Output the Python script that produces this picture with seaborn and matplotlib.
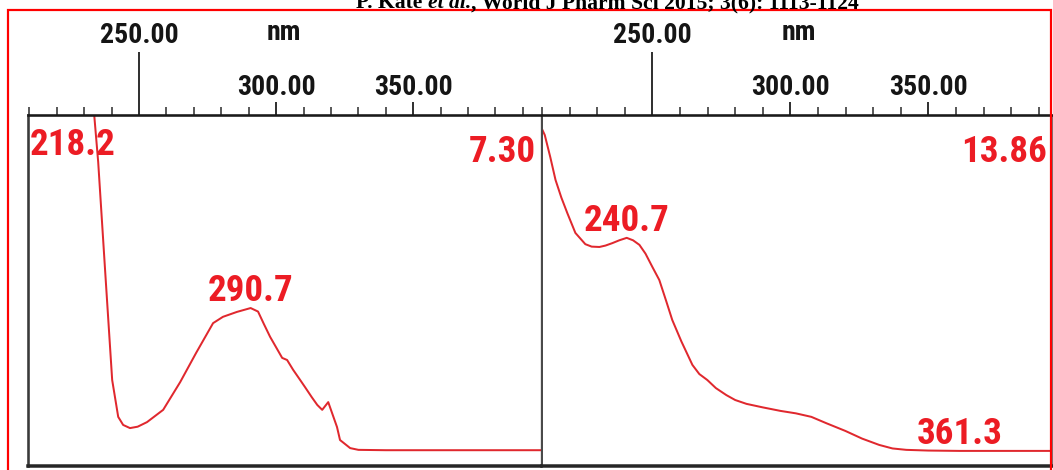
import matplotlib
matplotlib.use("Agg")
import matplotlib.pyplot as plt
from matplotlib import font_manager as fm
from matplotlib.patches import Rectangle
from matplotlib.textpath import TextPath
from matplotlib.ticker import MultipleLocator
import pandas as pd
import seaborn as sns

# UV spectrum A: wavelength (nm) and relative absorbance (fraction of full scale)
wl_a = [210, 214, 218.2, 222, 226, 230, 233, 235.1, 237.6, 240.2, 242.4, 244.2,
        246.7, 249.5, 252.9, 258.8, 265, 270.8, 277, 280.6, 285.7, 290.7, 293.4,
        295.5, 297.8, 300, 302.2, 304, 306.2, 308.5, 310.6, 313, 315, 316.8, 319,
        322.2, 323.3, 327, 330, 340, 360, 380, 396.6]
abs_a = [1.25, 1.38, 1.42, 1.38, 1.3, 1.18, 1.06, 0.866, 0.56, 0.245, 0.14, 0.117,
         0.108, 0.112, 0.125, 0.16, 0.239, 0.322, 0.407, 0.425, 0.439, 0.45, 0.44,
         0.405, 0.368, 0.338, 0.308, 0.302, 0.274, 0.248, 0.224, 0.196, 0.174, 0.16, 0.182,
         0.111, 0.074, 0.051, 0.046, 0.045, 0.045, 0.045, 0.045]

# UV spectrum B
wl_b = [210, 211, 213, 214.9, 217, 219.2, 222.1, 225.7, 228, 230.8, 233, 235.5,
        238, 240.7, 243, 245.3, 247.5, 250, 252.5, 255, 257.2, 260.5, 264.5, 267,
        269.9, 273, 276.8, 280, 284.1, 290, 296.4, 302, 307.6, 313, 319.9, 326,
        332.2, 337, 342, 350, 361.3, 380, 394.8]
abs_b = [0.96, 0.943, 0.88, 0.815, 0.765, 0.72, 0.664, 0.632, 0.625, 0.624, 0.628, 0.635,
         0.643, 0.65, 0.643, 0.63, 0.605, 0.567, 0.53, 0.47, 0.416, 0.355, 0.288, 0.262,
         0.245, 0.222, 0.202, 0.188, 0.177, 0.167, 0.157, 0.15, 0.14, 0.122, 0.1, 0.078,
         0.06, 0.05, 0.046, 0.044, 0.043, 0.043, 0.043]

peaks_a = [218.2, 290.7]
peaks_b = [240.7, 361.3]
full_scale = [7.30, 13.86]
tick_values = [250, 300, 350]
tick_labels = ["250.00", "300.00", "350.00"]
axis_unit = "nm"
citation = ["P. Kate ", "et al.", ", World J Pharm Sci 2015; 3(6): 1113-1124"]

W, H, DPI = 1053, 470, 100
PT = 72 / DPI  # points per pixel

sns.set_theme(style="white")

# pick a narrow sans face for the instrument lettering when one is installed
available = {f.name for f in fm.fontManager.ttflist}
preferred = ["Liberation Sans Narrow", "Arial Narrow", "Roboto Condensed",
             "Noto Sans Condensed", "Open Sans Condensed", "DejaVu Sans Condensed"]
label_family = next((n for n in preferred if n in available), None)
if label_family is None:
    cond = sorted(n for n in available
                  if "Condensed" in n and not any(k in n for k in ("Extra", "Semi", "Ultra", "Mono")))
    label_family = cond[0] if cond else "Liberation Sans"
plt.rcParams["font.family"] = [label_family, "Liberation Sans", "DejaVu Sans"]


def fit_size(sample, width_px, height_px, weight="bold"):
    """Font size (pt) balancing a target ink width and digit height."""
    fp = fm.FontProperties(family=[label_family, "Liberation Sans"], weight=weight)
    ext = TextPath((0, 0), sample, size=100, prop=fp).get_extents()
    s_w = 100 * width_px / ext.width
    s_h = 100 * height_px / ext.height
    return (s_w * s_h) ** 0.5 * PT


RED_SIZE = fit_size("13.86", 71, 31)
BLACK_SIZE = fit_size("250.00", 74, 21)

RED_TXT = "#ec1c24"
RED_LINE = "#e0282e"

fig = plt.figure(figsize=(W / DPI, H / DPI), dpi=DPI)
fig.patch.set_facecolor("white")


def fx(px):
    return px / W


def fy(py):
    return 1 - py / H


top_px, bot_px = 115, 466
ax_h = (bot_px - top_px) / H
axL = fig.add_axes([fx(28), fy(bot_px), fx(541 - 28), ax_h])
axR = fig.add_axes([fx(542), fy(bot_px), fx(1052 - 542), ax_h])

panels = [
    (axL, wl_a, abs_a, peaks_a, full_scale[0], (209.5, 396.6)),
    (axR, wl_b, abs_b, peaks_b, full_scale[1], (210.0, 394.8)),
]

for ax, wl, ab, peaks, fs, xlim in panels:
    df = pd.DataFrame({"wavelength": wl, "absorbance": ab})
    sns.lineplot(data=df, x="wavelength", y="absorbance", ax=ax,
                 color=RED_LINE, linewidth=2.0 * PT, sort=False)
    ax.set_xlim(*xlim)
    ax.set_ylim(0, 1)
    ax.set_xlabel("")
    ax.set_ylabel("")
    ax.set_facecolor("white")
    ax.yaxis.set_visible(False)

    # wavelength scale along the top edge
    ax.xaxis.set_ticks_position("top")
    ax.set_xticks(tick_values)
    ax.set_xticklabels(tick_labels)
    ax.xaxis.set_minor_locator(MultipleLocator(10))
    ax.tick_params(axis="x", which="major", direction="out", length=13 * PT,
                   width=2.0 * PT, color="#333333", pad=1 * PT,
                   labelsize=BLACK_SIZE, labelcolor="#151515")
    ax.tick_params(axis="x", which="minor", direction="out", length=8 * PT,
                   width=1.6 * PT, color="#333333")
    for lab in ax.get_xticklabels():
        lab.set_fontweight("bold")
    # the first labelled wavelength sits on a raised row with a long tick
    first = ax.xaxis.get_major_ticks()[0]
    first.set_pad(53 * PT)
    first.tick2line.set_markersize(63 * PT)
    first.tick2line.set_color("#3a3a3a")

    ax.text(303, 1 + (top_px - 40) / (bot_px - top_px), axis_unit,
            transform=ax.get_xaxis_transform(), ha="center", va="baseline",
            fontsize=BLACK_SIZE, fontweight="bold", color="#151515")

    # peak annotations
    for p in peaks:
        yv = ab[wl.index(p)]
        if yv > 1:
            ax.text(0.004, 0.886, f"{p:.1f}", transform=ax.transAxes,
                    ha="left", va="baseline", fontsize=RED_SIZE,
                    fontweight="bold", color=RED_TXT)
        else:
            ax.annotate(f"{p:.1f}", xy=(p, yv), xytext=(0, 7 * PT),
                        textcoords="offset points", ha="center", va="baseline",
                        fontsize=RED_SIZE, fontweight="bold", color=RED_TXT)
    ax.text(0.99, 0.866, f"{fs:.2f}", transform=ax.transAxes, ha="right",
            va="baseline", fontsize=RED_SIZE, fontweight="bold", color=RED_TXT)

# frame styling
for sp in axL.spines.values():
    sp.set_visible(True)
axL.spines["left"].set(color="#3a3a3a", linewidth=2.6 * PT)
axL.spines["bottom"].set(color="#262626", linewidth=3.5 * PT)
axL.spines["top"].set(color="#1a1a1a", linewidth=2.6 * PT)
axL.spines["right"].set(color="#4a4a4a", linewidth=1.3 * PT)
for sp in axR.spines.values():
    sp.set_visible(True)
axR.spines["left"].set(color="#4a4a4a", linewidth=1.0 * PT)
axR.spines["bottom"].set(color="#262626", linewidth=3.5 * PT)
axR.spines["top"].set(color="#1a1a1a", linewidth=2.6 * PT)
axR.spines["right"].set(color="#777777", linewidth=1.3 * PT)

# red page frame
fig.add_artist(Rectangle((fx(7.5), -0.1), fx(1051 - 7.5), fy(10) + 0.1,
                         transform=fig.transFigure, fill=False,
                         edgecolor="#ff0000", linewidth=2.2 * PT, clip_on=False))

# running header (partially above the page edge), scaled to its span
renderer = fig.canvas.get_renderer()
styles = ["normal", "italic", "normal"]
serif = ["Liberation Serif", "DejaVu Serif"]


def place_header(size, x0):
    x = x0
    items = []
    for txt, style in zip(citation, styles):
        t = fig.text(fx(x), fy(8), txt, family=serif, fontweight="bold",
                     style=style, fontsize=size, ha="left", va="baseline",
                     color="black")
        items.append(t)
        x += t.get_window_extent(renderer).width
    return items, x - x0


trial, span = place_header(13.0, 356)
for t in trial:
    t.remove()
place_header(13.0 * 502 / span, 356)

fig.savefig("out.png", dpi=DPI, facecolor="white")
